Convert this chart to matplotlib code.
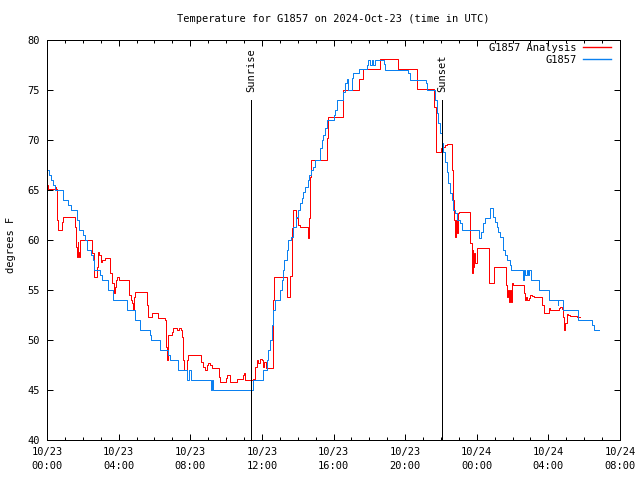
import numpy as np
import pandas as pd
import matplotlib
matplotlib.use('Agg')
import matplotlib.pyplot as plt
import matplotlib.dates as mdates

# hours since 2024-10-23 00:00 UTC, temperature in degrees F
obs_hours = [
    0.00, 0.13, 0.24, 0.35, 0.46, 0.88, 1.19, 1.32, 1.69, 1.80,
    1.99, 2.11, 2.22, 2.44, 2.55, 2.64, 2.96, 3.05, 3.39, 3.70,
    4.49, 4.90, 5.20, 5.75, 5.83, 6.31, 6.78, 6.87, 7.32, 7.84,
    7.95, 8.03, 9.15, 9.20, 9.26, 11.49, 12.09, 12.27, 12.36, 12.46,
    12.55, 12.64, 12.74, 13.02, 13.11, 13.17, 13.26, 13.39, 13.48, 13.61,
    13.76, 13.91, 14.04, 14.13, 14.23, 14.32, 14.43, 14.56, 14.65, 14.73,
    14.84, 14.97, 15.25, 15.35, 15.44, 15.53, 15.63, 16.00, 16.09, 16.18,
    16.55, 16.65, 16.74, 16.83, 17.02, 17.11, 17.45, 17.86, 17.95, 18.04,
    18.14, 18.23, 18.32, 18.83, 18.90, 20.18, 20.28, 21.17, 21.21, 21.68,
    21.77, 21.86, 21.96, 22.05, 22.14, 22.23, 22.33, 22.42, 22.51, 22.61,
    22.66, 22.79, 22.89, 23.07, 23.17, 24.15, 24.23, 24.34, 24.47, 24.75,
    24.93, 25.03, 25.12, 25.21, 25.31, 25.49, 25.59, 25.68, 25.83, 25.91,
    26.58, 26.65, 26.70, 26.80, 26.89, 26.94, 27.02, 27.45, 27.50, 28.01,
    28.51, 28.56, 28.81, 29.68, 30.45, 30.56, 30.85,
]
obs_temp = [
    67, 66.5, 66, 65.5, 65, 64, 63.5, 63, 62, 61,
    60.5, 60, 59, 58.5, 58, 57, 56.5, 56, 55, 54,
    53, 52, 51, 50.5, 50, 49, 48.5, 48, 47, 46,
    47, 46, 45, 46, 45, 46, 47, 48, 49, 50,
    51.5, 53, 54, 55, 56, 57, 58, 59, 60, 60.3,
    61.3, 62.3, 63, 63.7, 64.2, 64.8, 65.3, 66, 66.5, 67,
    67.3, 68, 69.2, 70, 70.5, 71.2, 72, 72.5, 73, 74,
    74.8, 75.7, 76.1, 75, 76.2, 76.7, 77.1, 77.5, 78, 77.5,
    78, 77.5, 78, 77.6, 77, 76.7, 76, 75.7, 75, 74,
    72.7, 71.7, 70.7, 69.7, 68.8, 67.8, 66.8, 65.7, 64.7, 64,
    63, 62.7, 62, 61.7, 61, 60.2, 60.8, 61.7, 62.2, 63.2,
    62.3, 61.8, 61.3, 60.8, 60.3, 59, 58.5, 58, 57.5, 57,
    56, 57, 56.5, 57, 56.5, 57, 56, 55.5, 55, 54,
    53.5, 54, 53, 52, 51.5, 51, 51,
]

ana_hours = [
    0.00, 0.06, 0.47, 0.53, 0.58, 0.63, 0.82, 0.88, 1.55, 1.60,
    1.66, 1.72, 1.75, 1.80, 1.84, 2.52, 2.60, 2.78, 2.87, 2.92,
    3.02, 3.09, 3.24, 3.52, 3.61, 3.74, 3.80, 3.85, 3.93, 4.02,
    4.57, 4.68, 4.73, 4.79, 4.86, 4.92, 5.57, 5.66, 5.85, 6.19,
    6.57, 6.65, 6.69, 6.74, 6.97, 7.06, 7.28, 7.39, 7.47, 7.52,
    7.58, 7.65, 7.80, 7.89, 8.60, 8.73, 8.83, 8.92, 9.01, 9.11,
    9.20, 9.60, 9.66, 9.97, 10.07, 10.20, 10.63, 10.95, 11.01, 11.06,
    11.53, 11.62, 11.72, 11.80, 11.90, 11.99, 12.05, 12.12, 12.23, 12.62,
    12.70, 13.40, 13.59, 13.67, 13.72, 13.90, 14.04, 14.13, 14.57, 14.63,
    14.69, 14.75, 15.65, 15.70, 16.55, 17.40, 17.65, 18.60, 19.62, 20.65,
    21.62, 21.70, 22.03, 22.14, 22.23, 22.33, 22.64, 22.69, 22.74, 22.79,
    22.85, 22.89, 22.94, 23.03, 23.65, 23.72, 23.78, 23.81, 23.87, 23.91,
    24.00, 24.68, 24.95, 25.62, 25.70, 25.75, 25.81, 25.86, 25.90, 25.98,
    26.05, 26.63, 26.70, 26.76, 26.83, 26.91, 26.98, 27.08, 27.17, 27.67,
    27.73, 28.01, 28.10, 28.59, 28.66, 28.76, 28.84, 28.90, 28.95, 29.03,
    29.12, 29.22, 29.62, 29.74,
]
ana_temp = [
    65.5, 65.1, 65.3, 65.1, 62, 61, 61.8, 62.3, 61.3, 59.3,
    58.3, 59.8, 58.8, 58.3, 60, 58.7, 56.3, 57.3, 58.8, 58.5,
    57.8, 58, 58.2, 56.7, 55.7, 54.7, 55.3, 56, 56.3, 56,
    54.5, 54, 53.7, 53, 54.3, 54.8, 53.5, 52.3, 52.7, 52.2,
    52, 49.3, 48, 50.5, 50.8, 51.2, 51, 51.2, 51, 50.3,
    48, 47, 48, 48.5, 47.8, 47.3, 47, 47.5, 47.7, 47.5,
    47.2, 46.3, 45.8, 46.2, 46.5, 45.8, 46.1, 46.5, 46.7, 46,
    46.1, 47.3, 48, 47.7, 48.1, 48, 47.3, 47.8, 47.2, 54,
    56.3, 54.3, 56.4, 61.2, 63, 62.2, 61.5, 61.3, 60.2, 62.2,
    66.3, 68, 70.2, 72.3, 75, 76.1, 77.1, 78.1, 77.1, 75.1,
    73.3, 68.8, 69.2, 69.3, 69.5, 69.6, 67, 64, 62, 60.3,
    62, 60.7, 62.7, 62.8, 59.7, 56.7, 59, 57.3, 58.7, 57.7,
    59.2, 55.7, 57.3, 55.5, 54.3, 55, 53.8, 55, 53.8, 55.7,
    55.5, 54.7, 54, 54.3, 54, 54.2, 54.5, 54.4, 54.3, 53.5,
    52.7, 53.2, 53, 53.2, 53.3, 53.1, 52.3, 51, 51.7, 52.6,
    52.5, 52.4, 52.3, 52.3,
]

sunrise_hour = 11.40
sunset_hour = 22.05

start = pd.Timestamp('2024-10-23 00:00')


def to_time(hours):
    return start + pd.to_timedelta(np.array(hours), unit='h')


mono = 'DejaVu Sans Mono'
fs = 7.5
lw = 0.72  # one pixel at 100 dpi
red = '#ff0000'
blue = '#0a80f0'

fig = plt.figure(figsize=(6.4, 4.8), dpi=100)
ax = fig.add_axes([47 / 640, 40 / 480, 573 / 640, 400 / 480])

ana_line, = ax.plot(to_time(ana_hours), ana_temp, drawstyle='steps-post',
                    color=red, lw=lw, label='G1857 Analysis')
obs_line, = ax.plot(to_time(obs_hours), obs_temp, drawstyle='steps-post',
                    color=blue, lw=lw, label='G1857')

# sunrise / sunset markers
for h, name in [(sunrise_hour, 'Sunrise'), (sunset_hour, 'Sunset')]:
    t = to_time([h])[0]
    ax.plot([t, t], [40, 74], color='black', lw=lw)
    ax.text(t, 74.8, name, rotation=90, ha='center', va='bottom',
            family=mono, fontsize=fs)

ax.set_xlim(start, start + pd.Timedelta(hours=32))
ax.set_ylim(40, 80)
ax.set_yticks(np.arange(40, 81, 5))
ax.xaxis.set_major_locator(mdates.HourLocator(byhour=range(0, 24, 4)))
ax.xaxis.set_minor_locator(mdates.HourLocator())
ax.xaxis.set_major_formatter(mdates.DateFormatter('%m/%d\n%H:%M'))

ax.tick_params(which='both', direction='in', top=True, right=True, width=lw)
ax.tick_params(which='major', length=4, labelsize=fs)
ax.tick_params(which='minor', length=2)
ax.tick_params(axis='x', pad=5)
ax.tick_params(axis='y', pad=5)
for lab in ax.get_xticklabels() + ax.get_yticklabels():
    lab.set_family(mono)
    lab.set_linespacing(1.5)
for s in ax.spines.values():
    s.set_linewidth(lw)

fig.text(333.5 / 640, 1 - 19 / 480, 'Temperature for G1857 on 2024-Oct-23 (time in UTC)',
         ha='center', va='center', family=mono, fontsize=fs)
fig.text(11 / 640, 1 - 245 / 480, 'degrees F', rotation=90, ha='center', va='center',
         family=mono, fontsize=fs)

from matplotlib.lines import Line2D
handles = [Line2D([], [], color=red, lw=1.0), Line2D([], [], color=blue, lw=1.0)]
ax.legend(handles, ['G1857 Analysis', 'G1857'], loc='upper right',
          bbox_to_anchor=(611 / 640, 1 - 43 / 480), bbox_transform=fig.transFigure,
          frameon=False, markerfirst=False, handlelength=2.7, handletextpad=0.6,
          labelspacing=0.15, borderpad=0, borderaxespad=0,
          prop={'family': mono, 'size': fs})

fig.savefig('out.png', dpi=100)
